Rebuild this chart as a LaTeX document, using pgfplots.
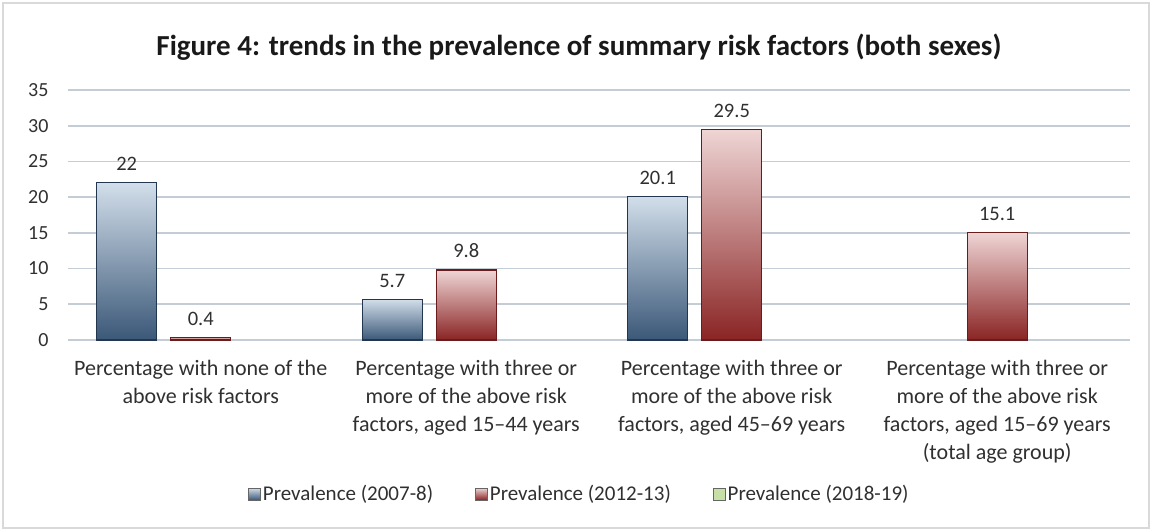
\documentclass[border=0pt]{standalone}
\usepackage{pgfplots}
\pgfplotsset{compat=1.18}
\usepackage{fontspec}
\setmainfont{Carlito}
\definecolor{gridc}{HTML}{C4CCD6}
\definecolor{txt}{HTML}{303030}
\definecolor{blueT}{HTML}{D2DEEA}
\definecolor{blueB}{HTML}{3B5878}
\definecolor{blueE}{HTML}{22364F}
\definecolor{redT}{HTML}{EFD5D5}
\definecolor{redB}{HTML}{8A2424}
\definecolor{redE}{HTML}{6A1C1C}
\definecolor{greenF}{HTML}{C7E0A8}
\definecolor{greenE}{HTML}{8AB060}
\begin{document}
\begin{tikzpicture}[x=1pt,y=1pt]
\useasboundingbox (0,0) rectangle (1152,531);
\draw[gray!30, line width=1.5pt] (3,3) rectangle (1149,528);
\node[font=\bfseries\fontsize{29}{33}\selectfont, text=black!90] at (579,484) {Figure 4: trends in the prevalence of summary risk factors (both sexes)};
\begin{axis}[
  at={(68pt,191pt)}, anchor=south west,
  scale only axis, width=1062pt, height=250pt,
  xmin=-0.5, xmax=3.5, ymin=0, ymax=35,
  ytick={0,5,...,35},
  xtick={0,1,2,3},
  xticklabels={
    {Percentage with none of the\\above risk factors},
    {Percentage with three or\\more of the above risk\\factors, aged 15–44  years},
    {Percentage with three or\\more of the above risk\\factors, aged 45–69  years},
    {Percentage with three or\\more of the above risk\\factors, aged 15–69  years\\(total age group)}},
  xticklabel style={align=center, font=\fontsize{22}{28}\selectfont, text=txt, yshift=-12pt},
  yticklabel style={font=\fontsize{20}{24}\selectfont, text=txt, xshift=-16pt},
  /pgf/number format/assume math mode=true,
  ymajorgrids, grid style={gridc, line width=1.8pt},
  axis line style={draw=none},
  major tick style={draw=none},
  ybar, bar width=60pt,
  nodes near coords,
  every node near coord/.append style={font=\fontsize{20.5}{24}\selectfont, text=txt, yshift=8pt},
  blueBar/.style={bar shift=-74pt, draw=blueE, line width=1.2pt, top color=blueT, bottom color=blueB},
  redBar/.style={bar shift=0pt, draw=redE, line width=1.2pt, top color=redT, bottom color=redB},
  legend style={at={(0.4815,-0.616)}, anchor=center, legend columns=3, draw=none,
    font=\fontsize{21}{25}\selectfont, text=txt,
    /tikz/every even column/.append style={column sep=40pt}},
  legend image code/.code={\draw[#1, draw=gray!80!black, line width=0.8pt] (0pt,-6pt) rectangle (12pt,6pt);},
]
\addplot[blueBar] coordinates {(0,22)};
\addlegendentry{Prevalence (2007-8)}
\addplot[blueBar, forget plot] coordinates {(1,5.7)};
\addplot[blueBar, forget plot] coordinates {(2,20.1)};
\addplot[redBar] coordinates {(0,0.4)};
\addlegendentry{Prevalence (2012-13)}
\addplot[redBar, forget plot] coordinates {(1,9.8)};
\addplot[redBar, forget plot] coordinates {(2,29.5)};
\addplot[redBar, forget plot] coordinates {(3,15.1)};
\addlegendimage{fill=greenF, draw=greenE}
\addlegendentry{Prevalence (2018-19)}
\end{axis}
\end{tikzpicture}
\end{document}
